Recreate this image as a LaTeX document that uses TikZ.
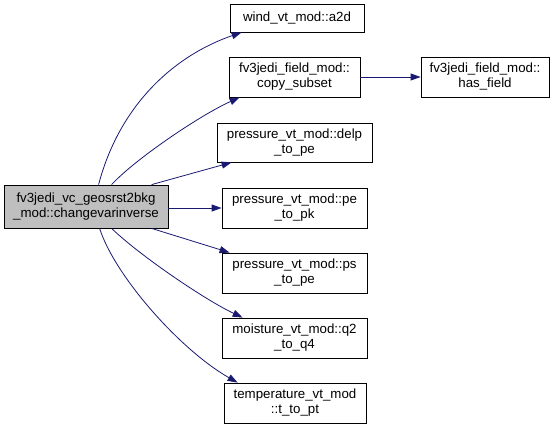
\documentclass[tikz,border=0pt]{standalone}
\usepackage{fontspec}
\setmainfont{Liberation Sans}
\usetikzlibrary{arrows.meta,calc}
\definecolor{edgeblue}{HTML}{191970}
\definecolor{rootgray}{HTML}{BFBFBF}
\tikzset{
  fn/.style={draw=black, line width=0.8pt, fill=white, inner sep=0pt, align=center,
    font=\fontsize{13.3}{15}\selectfont},
  rootfn/.style={fn, fill=rootgray},
  call/.style={draw=edgeblue, line width=0.8pt, -{Triangle[length=10pt,width=7pt]}}
}
\begin{document}
\begin{tikzpicture}[x=1pt,y=-1pt]
\useasboundingbox (0,0) rectangle (556,430);
\node[rootfn, minimum width=164pt, minimum height=43pt] (root) at (86,206.5)
  {fv3jedi\_vc\_geosrst2bkg\\\_mod::changevarinverse};
\node[fn, minimum width=134pt, minimum height=28pt] (wind) at (297,18) {wind\_vt\_mod::a2d};
\node[fn, minimum width=131pt, minimum height=40pt] (copy) at (294.5,77) {fv3jedi\_field\_mod::\\copy\_subset};
\node[fn, minimum width=128pt, minimum height=40pt] (has) at (485,77) {fv3jedi\_field\_mod::\\has\_field};
\node[fn, minimum width=155pt, minimum height=39pt] (delp) at (294.5,142.5) {pressure\_vt\_mod::delp\\\_to\_pe};
\node[fn, minimum width=145pt, minimum height=40pt] (pk) at (294.5,208) {pressure\_vt\_mod::pe\\\_to\_pk};
\node[fn, minimum width=145pt, minimum height=40pt] (ps) at (294.5,273) {pressure\_vt\_mod::ps\\\_to\_pe};
\node[fn, minimum width=145pt, minimum height=40pt] (q2) at (294.5,338) {moisture\_vt\_mod::q2\\\_to\_q4};
\node[fn, minimum width=142pt, minimum height=40pt] (tpt) at (295,403) {temperature\_vt\_mod\\::t\_to\_pt};

\draw[call] ([xshift=95pt]root.north west) .. controls +(21,-80) and +(-67,23) .. ([xshift=12pt]wind.south west);
\draw[call] ([xshift=108pt]root.north west) .. controls +(23,-25) and +(-40,18) .. ([xshift=11pt]copy.south west);
\draw[call] ([xshift=148pt]root.north west) -- ([xshift=15pt]delp.south west);
\draw[call] (pk.west -| root.east) -- (pk.west);
\draw[call] ([xshift=148pt]root.south west) -- ([xshift=8pt]ps.north west);
\draw[call] ([xshift=108pt]root.south west) .. controls +(28,27) and +(-38,-18) .. ([xshift=21pt]q2.north west);
\draw[call] ([xshift=96pt]root.south west) .. controls +(15,47) and +(-58,-33) .. ([xshift=14pt]tpt.north west);
\draw[call] (copy.east) -- (has.west);
\end{tikzpicture}
\end{document}
